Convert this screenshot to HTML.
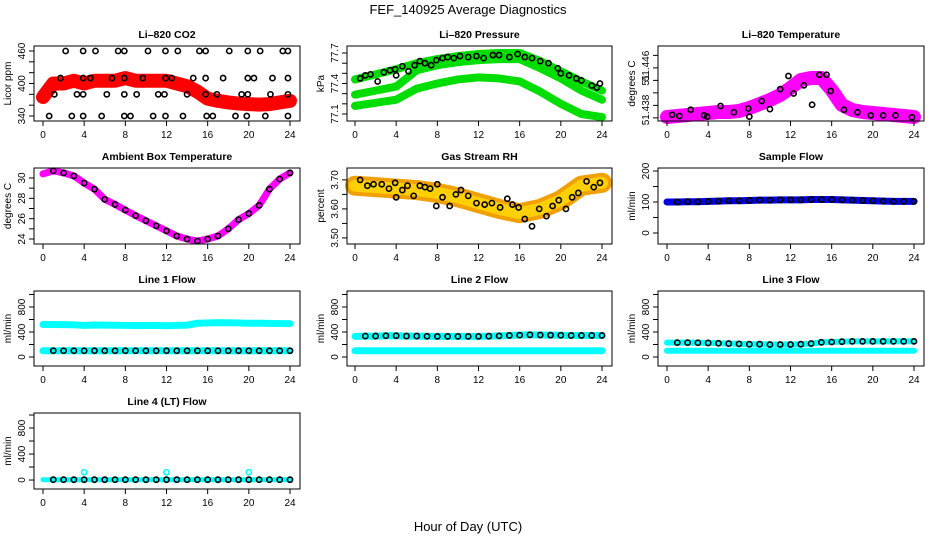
<!DOCTYPE html>
<html><head><meta charset="utf-8"><style>
body{margin:0;background:#fff}
svg{display:block;font-family:"Liberation Sans",sans-serif}
</style></head><body>
<svg id="c" width="936" height="540" viewBox="0 0 936 540" xmlns="http://www.w3.org/2000/svg">
<rect width="936" height="540" fill="#fff"/>
<text x="468" y="14" font-size="13" text-anchor="middle">FEF_140925  Average Diagnostics</text>
<text x="468" y="531" font-size="13" text-anchor="middle">Hour of Day (UTC)</text>
<g id="g"></g>
</svg>
<script>
// ---- data ----
const hours25=[0,1,2,3,4,5,6,7,8,9,10,11,12,13,14,15,16,17,18,19,20,21,22,23,24];
const hours13=[0,2,4,6,8,10,12,14,16,18,20,22,24];
const co2Red=[375,400,400,405,400,405,405,405,410,405,405,405,405,400,395,385,372,368,365,363,362,361,362,365,368];
const co2BlkH=[2.2,3.9,5.1,7.3,7.9,10.2,11.9,13.1,15.2,15.8,18.1,19.9,21.1,23.3,23.8,1.7,3.9,4.6,6.7,7.9,9.7,11.9,12.5,14.6,15.8,17.5,19.9,20.5,22.3,23.8,1.1,3.3,3.9,6.2,7.9,9.1,11.2,11.8,14.0,15.8,16.9,19.3,19.9,22.1,23.8,0.6,2.8,3.9,5.7,7.9,8.5,10.7,11.9,13.6,15.9,16.5,18.7,19.8,21.6,23.8];
const co2BlkV=[460,460,460,460,460,460,460,460,460,460,460,460,460,460,460,410,410,410,410,410,410,410,410,410,410,410,410,410,410,410,380,380,380,380,380,380,380,380,380,380,380,380,380,380,380,340,340,340,340,340,340,340,340,340,340,340,340,340,340,340];
const presA=[77.44,77.49,77.54,77.60,77.64,77.67,77.69,77.70,77.70,77.62,77.52,77.42,77.33];
const presB=[77.29,77.33,77.37,77.53,77.58,77.61,77.63,77.64,77.64,77.55,77.45,77.33,77.24];
const presC=[77.18,77.21,77.24,77.35,77.40,77.44,77.46,77.45,77.42,77.32,77.20,77.10,77.07];
const presBlkH=[0.5,1,1.5,2.2,2.8,3.4,3.9,4,4.6,5.2,5.8,6.3,6.8,7.4,7.9,8.5,9,9.6,10.2,11,11.8,12.5,13.4,14,15,15.8,16.5,17.2,18,18.8,19.7,20,20.8,21.5,22,23,23.5,23.8];
const presBlkV=[77.45,77.48,77.49,77.42,77.51,77.53,77.54,77.48,77.57,77.52,77.58,77.62,77.60,77.58,77.63,77.65,77.66,77.65,77.67,77.66,77.67,77.65,77.68,77.68,77.66,77.69,77.66,77.65,77.62,77.60,77.55,77.50,77.48,77.45,77.43,77.38,77.36,77.40];
const tempMag=[51.43664,51.4368,51.43696,51.43712,51.43728,51.43744,51.43744,51.4376,51.43808,51.43872,51.43936,51.44016,51.44128,51.44256,51.44288,51.44288,51.44096,51.43856,51.43776,51.43744,51.43728,51.43712,51.43696,51.4368,51.43664];
const tempBlkH=[0.5,1.2,2.3,3.6,3.9,5.2,6.5,7.9,8.0,9.2,10.0,11.0,11.8,12.3,13.3,14.1,14.8,15.5,15.9,17.2,18.5,19.8,21.0,22.2,23.8];
const tempBlkV=[51.4370,51.4368,51.4378,51.4369,51.4367,51.4384,51.4374,51.4380,51.4367,51.4392,51.4379,51.4411,51.4432,51.4404,51.4417,51.4386,51.4434,51.4434,51.4408,51.4378,51.4374,51.4369,51.4369,51.4369,51.4366];
const ambMag=[30.4,30.7,30.5,30.2,29.5,28.9,27.9,27.4,26.85,26.3,25.8,25.3,24.8,24.3,24.0,23.8,24.0,24.3,25.0,25.9,26.5,27.3,28.9,29.9,30.5];
const rhBand=[3.68,3.675,3.67,3.665,3.655,3.64,3.62,3.60,3.585,3.60,3.63,3.68,3.69];
const rhBlkH=[0.5,1.2,1.8,2.6,3.3,3.9,4.0,4.6,5.1,5.7,6.3,6.8,7.3,7.9,8.0,8.5,9.2,9.8,10.3,11.0,11.8,12.6,13.3,14.1,14.8,15.3,15.9,16.5,17.2,17.9,18.6,19.2,19.8,20.5,21.1,21.7,22.5,23.2,23.8];
const rhBlkV=[3.70,3.68,3.685,3.685,3.67,3.69,3.64,3.665,3.68,3.645,3.68,3.675,3.67,3.61,3.685,3.64,3.61,3.65,3.665,3.645,3.62,3.615,3.62,3.605,3.635,3.615,3.605,3.565,3.54,3.60,3.575,3.61,3.63,3.60,3.64,3.655,3.695,3.675,3.69];
const sampleFlow=[100,100,101,101,102,103,104,104,105,106,106,107,107,107,108,108,108,107,106,105,104,103,102,102,102];
const line1Up=[520,520,518,515,505,512,510,508,505,505,505,505,500,505,510,540,545,550,548,545,540,540,538,535,535];
const line1Lo=[100,100,100,100,100,100,100,100,100,100,100,100,100,100,100,100,100,100,100,100,100,100,100,100,100];
const line2Up=[330,335,335,340,340,335,335,332,330,330,330,330,330,333,338,345,350,355,352,350,348,345,345,345,345];
const line2Lo=[100,100,100,100,100,100,100,100,100,100,100,100,100,100,100,100,100,100,100,100,100,100,100,100,100];
const line3Up=[230,230,230,228,225,220,215,210,205,205,200,200,200,205,215,235,240,245,250,250,250,250,250,250,250];
const line3Lo=[100,100,100,100,100,100,100,100,100,100,100,100,100,100,100,100,100,100,100,100,100,100,100,100,100];
const line4=[5,5,5,5,5,5,5,5,5,5,5,5,5,5,5,5,5,5,5,5,5,5,5,5,5];
const line4SpikeH=[4,12,20];
const line4SpikeV=[120,120,120];
const xTicks=[0,4,8,12,16,20,24];

const NS="http://www.w3.org/2000/svg";
const G=document.getElementById('g');
function el(t,a,p){const e=document.createElementNS(NS,t);for(const k in a)e.setAttribute(k,a[k]);(p||G).appendChild(e);return e;}
const cols=[{l:34,r:300,x0:43,x1:290},{l:347,r:612,x0:355,x1:602},{l:658,r:924,x0:667,x1:914}];
const rows=[{t:46,b:121},{t:168,b:244},{t:291,b:366},{t:413,b:489}];

function panel(name,c,r,title,ylab,lo,hi,ticks,labels,draw,labelPos){
  const C=cols[c],R=rows[r];
  const g=el('g',{});
  
  
  const sx=h=>C.x0+(C.x1-C.x0)*h/24;
  const sy=v=>R.b-(v-lo)/(hi-lo)*(R.b-R.t);
  const t=el('text',{x:(C.l+C.r)/2,y:R.t-8,'font-size':10.5,'font-weight':'bold','text-anchor':'middle'},g);t.textContent=title;
  
  const yl=el('text',{x:0,y:0,'font-size':10,'text-anchor':'middle',transform:`translate(${C.l-23},${(R.t+R.b)/2}) rotate(-90)`},g);yl.textContent=ylab;
  
  const pg=el('g',{},g);
  
  draw(sx,sy,pg);
  el('rect',{x:C.l,y:R.t,width:C.r-C.l,height:R.b-R.t,fill:'none',stroke:'#000','stroke-width':1},g);
  // x axis
  el('line',{x1:C.x0,x2:C.x1,y1:R.b,y2:R.b,stroke:'#000'},g);
  xTicks.forEach(h=>{el('line',{x1:sx(h),x2:sx(h),y1:R.b,y2:R.b+5,stroke:'#000'},g);
    const tx=el('text',{x:sx(h),y:R.b+17,'font-size':10,'text-anchor':'middle'},g);tx.textContent=h;
    });
  // y axis
  ticks.forEach(v=>{const y=sy(v);if(y<R.t-4||y>R.b+4)return;el('line',{x1:C.l-5,x2:C.l,y1:y,y2:y,stroke:'#000'},g);});
  labels.forEach((L,i)=>{const y=labelPos?labelPos[i]:sy(L[0]);
    const tx=el('text',{x:0,y:0,'font-size':10,'text-anchor':'middle',transform:`translate(${C.l-9},${y}) rotate(-90)`},g);tx.textContent=L[1];
    });
}
function band(sx,sy,xs,ys,col,w,p){
  el('polyline',{points:xs.map((h,i)=>sx(h)+','+sy(ys[i])).join(' '),fill:'none',stroke:col,'stroke-width':w,'stroke-linejoin':'round','stroke-linecap':'round'},p);
}
function pts(sx,sy,xs,ys,col,p,r){
  xs.forEach((h,i)=>{const c=el('circle',{cx:sx(h),cy:sy(ys[i]),r:r||2.6,fill:'none',stroke:col,'stroke-width':1.6},p);
  });
}
const seq=(a,b,s)=>{const o=[];for(let v=a;v<=b+1e-9;v+=s)o.push(+v.toFixed(4));return o;};

panel('co2',0,0,'Li\u2013820 CO2','Licor ppm',330.8,469.2,seq(340,460,20),[[340,'340'],[400,'400'],[460,'460']],(sx,sy,p)=>{
  band(sx,sy,hours25,co2Red,'#f00',14,p);pts(sx,sy,hours25,co2Red,'#f00',p,3);pts(sx,sy,co2BlkH,co2BlkV,'#000',p);});
panel('pressure',1,0,'Li\u2013820 Pressure','kPa',77.031,77.769,seq(77.1,77.7,0.1),[[77.1,'77.1'],[77.4,'77.4'],[77.7,'77.7']],(sx,sy,p)=>{
  [presA,presB,presC].forEach(a=>{band(sx,sy,hours13,a,'#0d0',8,p);});pts(sx,sy,presBlkH,presBlkV,'#000',p);});
panel('temperature',2,0,'Li\u2013820 Temperature','degrees C',51.436,51.448,seq(51.4365,51.4475,0.002),[[0,'51.446'],[0,'51'],[0,'51.438']],(sx,sy,p)=>{
  band(sx,sy,hours25,tempMag,'#f0f',14,p);pts(sx,sy,hours25,tempMag,'#f0f',p,3);pts(sx,sy,tempBlkH,tempBlkV,'#000',p);},[66,80,110]);
panel('ambient',0,1,'Ambient Box Temperature','degrees C',23.51,30.98,seq(24,30,1),[[24,'24'],[26,'26'],[28,'28'],[30,'30']],(sx,sy,p)=>{
  band(sx,sy,hours25,ambMag,'#f0f',7,p);pts(sx,sy,hours25.slice(1),ambMag.slice(1),'#000',p);});
panel('rh',1,1,'Gas Stream RH','percent',3.479,3.741,seq(3.5,3.7,0.05),[[3.5,'3.50'],[3.6,'3.60'],[3.7,'3.70']],(sx,sy,p)=>{
  band(sx,sy,hours13,rhBand,'#f0a000',20,p);band(sx,sy,hours13,rhBand,'#ffd000',12,p);pts(sx,sy,rhBlkH,rhBlkV,'#000',p);});
panel('sample-flow',2,1,'Sample Flow','ml/min',-35.5,209.7,seq(0,200,50),[[0,'0'],[100,'100'],[200,'200']],(sx,sy,p)=>{
  band(sx,sy,hours25,sampleFlow,'#0000e0',7,p);pts(sx,sy,hours25.slice(1),sampleFlow.slice(1),'#000',p);});
const fT=seq(0,1000,200),fL=[[0,'0'],[400,'400'],[800,'800']];
panel('line1',0,2,'Line 1 Flow','ml/min',-144,1056,fT,fL,(sx,sy,p)=>{
  band(sx,sy,hours25,line1Up,'#0ff',7,p);band(sx,sy,hours25,line1Lo,'#0ff',7,p);pts(sx,sy,hours25.slice(1),line1Lo.slice(1),'#000',p);});
panel('line2',1,2,'Line 2 Flow','ml/min',-144,1056,fT,fL,(sx,sy,p)=>{
  band(sx,sy,hours25,line2Up,'#0ff',7,p);band(sx,sy,hours25,line2Lo,'#0ff',7,p);pts(sx,sy,hours25.slice(1),line2Up.slice(1),'#000',p);});
panel('line3',2,2,'Line 3 Flow','ml/min',-144,1056,fT,fL,(sx,sy,p)=>{
  band(sx,sy,hours25,line3Up,'#0ff',6,p);band(sx,sy,hours25,line3Lo,'#0ff',6,p);pts(sx,sy,hours25.slice(1),line3Up.slice(1),'#000',p);});
panel('line4',0,3,'Line 4 (LT) Flow','ml/min',-138,1031,fT,fL,(sx,sy,p)=>{
  band(sx,sy,hours25,line4,'#0ff',5,p);pts(sx,sy,line4SpikeH,line4SpikeV,'#0ff',p);pts(sx,sy,hours25.slice(1),line4.slice(1),'#000',p);});
</script>
</body></html>
